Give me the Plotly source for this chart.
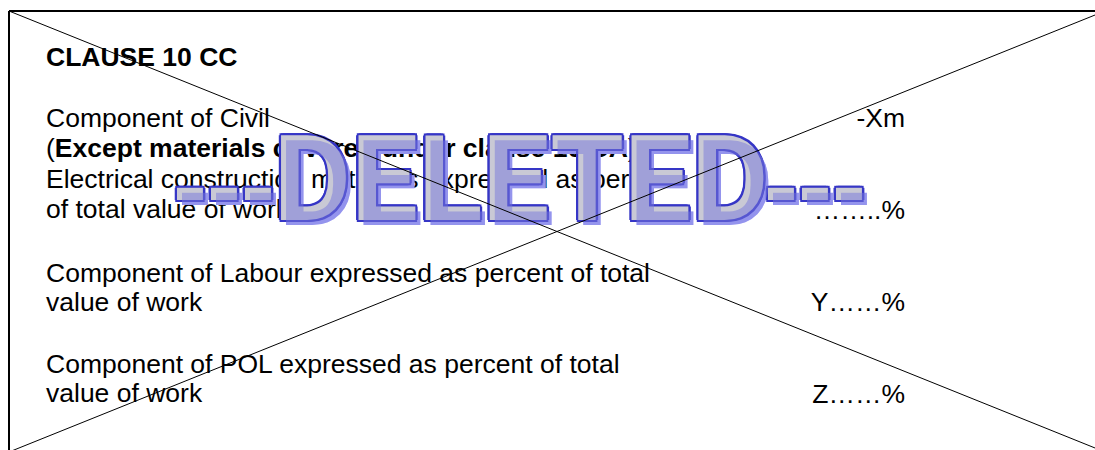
import plotly.graph_objects as go

# ---- document text (left column) ----
left_text = [
    "<b>CLAUSE 10 CC</b>",
    "Component of Civil",
    "(<b>Except materials covered under clause 10 CA</b>)",
    "Electrical construction materials expressed as percent",
    "of total value of work",
    "Component of Labour expressed as percent of total",
    "value of work",
    "Component of POL expressed as percent of total",
    "value of work",
]
left_baseline = [66, 127, 157, 188, 218, 282, 311, 373, 402]

# ---- document text (right column) ----
right_text = ["-Xm", "……..%", "Y……%", "Z……%"]
right_baseline = [127, 219, 311, 403]

# ---- watermark (three runs of the one "---DELETED---" stamp) ----
watermark_parts = ["---", "DELETED", "---"]
watermark_part_x = [224, 521, 815]
watermark_part_font = ["Liberation Sans, Arial, sans-serif",
                       "Roboto, Liberation Sans, Arial, sans-serif",
                       "Liberation Sans, Arial, sans-serif"]
watermark_part_size = [102, 119, 102]
watermark_baseline = 220

# ---- frame and crossing lines ----
frame_x = [9, 1105]
frame_y = [11, 452]

W, H = 1095, 450
FS = 26.5
LEFT_X = 46
RIGHT_X = 905
FONT = "Liberation Sans, Arial, sans-serif"

fig = go.Figure()

def ypos(baseline, fs):
    # plotly places single-line 'middle' text with baseline at y + 0.25*fs
    return baseline - 0.25 * fs

fig.add_trace(go.Scatter(
    x=[LEFT_X] * len(left_text),
    y=[ypos(b, FS) for b in left_baseline],
    text=left_text, mode="text", textposition="middle right",
    textfont=dict(family=FONT, size=FS, color="#000000"),
    hoverinfo="skip", showlegend=False, cliponaxis=False,
))
fig.add_trace(go.Scatter(
    x=[RIGHT_X] * len(right_text),
    y=[ypos(b, FS) for b in right_baseline],
    text=right_text, mode="text", textposition="middle left",
    textfont=dict(family=FONT, size=FS, color="#000000"),
    hoverinfo="skip", showlegend=False, cliponaxis=False,
))

# watermark layers
OUT = "#3636c6"
ring = ", ".join(f"{dx}px {dy}px 0 {OUT}" for dx, dy in [
    (2.4, 0), (-2.4, 0), (0, 2.4), (0, -2.4),
    (1.7, 1.7), (-1.7, 1.7), (1.7, -1.7), (-1.7, -1.7)])
SH = 5
layers = [
    (SH, SH, "rgb(176,176,255)", "none"),
    (0, 0, OUT, ring),
    (0, 0, "rgba(214,214,214,0.92)", "none"),
    (SH, SH, "rgba(120,120,220,0.5)", "none"),
]
for dx, dy, col, shadow in layers:
    for txt, px, fam, size in zip(watermark_parts, watermark_part_x,
                                  watermark_part_font, watermark_part_size):
        fig.add_trace(go.Scatter(
            x=[px + dx], y=[ypos(watermark_baseline, size) + dy], text=[txt],
            mode="text", textposition="middle center",
            textfont=dict(family=fam, size=size, color=col, weight="bold", shadow=shadow),
            hoverinfo="skip", showlegend=False, cliponaxis=False,
        ))

# frame
fig.add_shape(type="line", x0=frame_x[0], y0=frame_y[0], x1=frame_x[0], y1=frame_y[1],
              line=dict(color="black", width=2), layer="above")
fig.add_shape(type="line", x0=frame_x[0], y0=frame_y[0], x1=frame_x[1], y1=frame_y[0],
              line=dict(color="black", width=2), layer="above")
# crossing lines
fig.add_shape(type="line", x0=frame_x[0], y0=frame_y[0], x1=frame_x[1], y1=frame_y[1],
              line=dict(color="black", width=1), layer="above")
fig.add_shape(type="line", x0=frame_x[1], y0=frame_y[0], x1=frame_x[0], y1=frame_y[1],
              line=dict(color="black", width=1), layer="above")

fig.update_layout(
    width=W, height=H, margin=dict(l=0, r=0, t=0, b=0),
    paper_bgcolor="white", plot_bgcolor="white",
    xaxis=dict(range=[0, W], visible=False, fixedrange=True),
    yaxis=dict(range=[H, 0], visible=False, fixedrange=True),
    showlegend=False,
)
fig.write_html(
    "out.html",
    config={"displayModeBar": False},
    post_script="document.body.style.margin='0';document.body.style.overflow='hidden';",
)
